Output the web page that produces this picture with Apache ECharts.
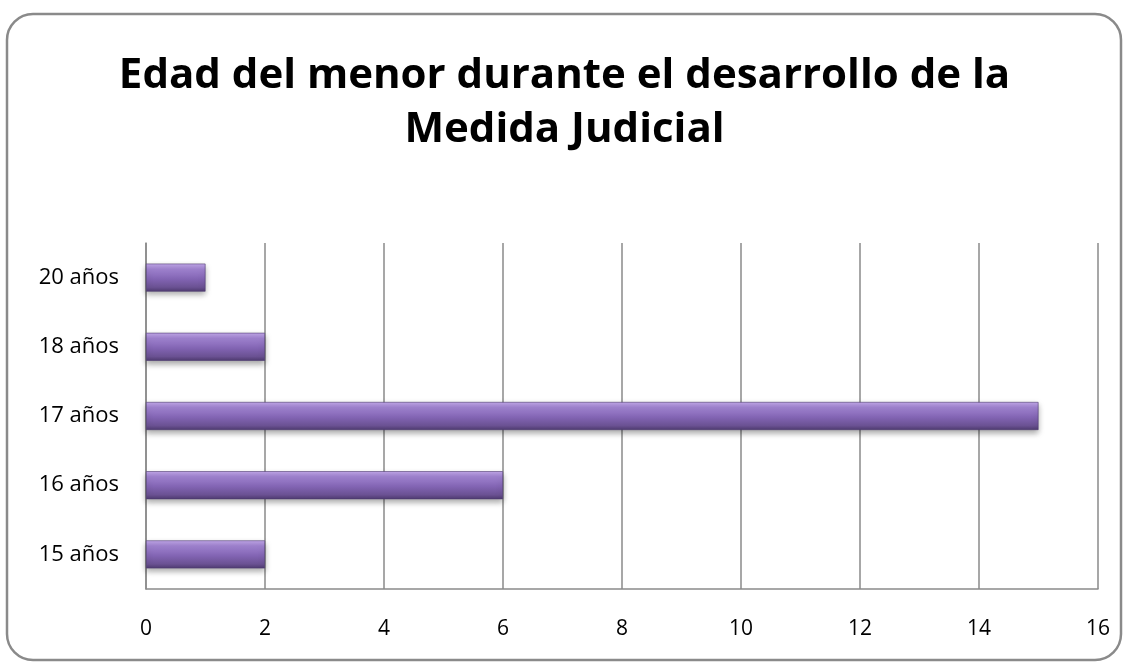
<!DOCTYPE html>
<html lang="es">
<head>
  <meta charset="UTF-8">
  <title>Edad del menor</title>
  <style>
    html, body { margin: 0; padding: 0; background-color: #fff; }
  </style>
  <script src="https://cdn.jsdelivr.net/npm/echarts@6/dist/echarts.min.js"></script>
</head>
<body>
<div id="chart" style="width: 1129px; height: 669px;"></div>
<script>
  // datos
  const categorias = ['15 años', '16 años', '17 años', '18 años', '20 años']
  const valores = [2, 6, 15, 2, 1]
  const ejeX = { min: 0, max: 16, interval: 2 }

  const chart = echarts.init(document.getElementById('chart'))
  const fuente = '"Open Sans", "Liberation Sans", sans-serif'

  let option = {
    animation: false,
    title: {
      text: 'Edad del menor durante el desarrollo de la\nMedida Judicial',
      left: 'center',
      top: 44,
      textStyle: {
        fontFamily: fuente,
        fontSize: 42,
        fontWeight: 'bold',
        color: '#000',
        lineHeight: 54
      }
    },
    // marco redondeado
    graphic: [{
      type: 'rect',
      shape: { x: 7, y: 14, width: 1114, height: 646, r: 26 },
      style: { fill: 'none', stroke: '#8a8a8a', lineWidth: 2.5 },
      z: -1
    }],
    grid: { left: 146, right: 31, top: 243, bottom: 80 },
    xAxis: {
      type: 'value',
      min: ejeX.min,
      max: ejeX.max,
      interval: ejeX.interval,
      axisLine: { show: true, lineStyle: { color: '#8a8a8a', width: 1.5 } },
      axisTick: { show: false },
      splitLine: { show: true, lineStyle: { color: '#8a8a8a', width: 1.5 } },
      axisLabel: { fontFamily: fuente, fontSize: 21, color: '#000', margin: 30 }
    },
    yAxis: {
      type: 'category',
      data: categorias,
      axisLine: { show: true, lineStyle: { color: '#8a8a8a', width: 1.5 } },
      axisTick: { show: false },
      axisLabel: { fontFamily: fuente, fontSize: 22, color: '#000', margin: 27 }
    },
    series: [{
      type: 'bar',
      data: valores,
      barWidth: 28,
      itemStyle: {
        color: new echarts.graphic.LinearGradient(0, 0, 0, 1, [
          { offset: 0, color: '#c2a8ea' },
          { offset: 0.2, color: '#9f82cf' },
          { offset: 0.55, color: '#8264b3' },
          { offset: 0.85, color: '#6a5192' },
          { offset: 1, color: '#4e3a70' }
        ]),
        borderColor: '#4e3a70',
        borderWidth: 0.6,
        shadowColor: 'rgba(0,0,0,0.35)',
        shadowBlur: 6,
        shadowOffsetY: 3
      }
    }]
  }
  chart.setOption(option)
</script>
</body>
</html>
